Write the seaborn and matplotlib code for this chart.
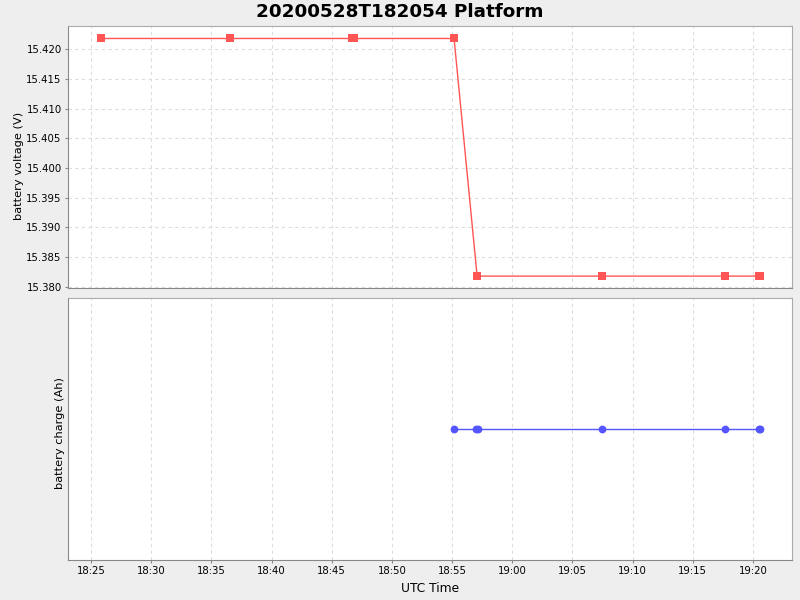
import matplotlib
matplotlib.use("Agg")
import matplotlib.pyplot as plt
import matplotlib.dates as mdates
import numpy as np
import pandas as pd
import seaborn as sns

day = "2020-05-28 "
volt_times = ["18:25:50", "18:36:33", "18:46:42", "18:46:52", "18:55:10",
              "18:57:05", "19:07:29", "19:17:42", "19:20:29", "19:20:35"]
volt_values = [15.4218, 15.4218, 15.4218, 15.4218, 15.4218,
               15.3818, 15.3818, 15.3818, 15.3818, 15.3818]
charge_times = ["18:55:10", "18:56:58", "18:57:10", "19:07:29",
                "19:17:42", "19:20:29", "19:20:35"]
charge_values = [0.0, 0.0, 0.0, 0.0, 0.0, 0.0, 0.0]
title = "20200528T182054 Platform"

volt = pd.DataFrame({"time": pd.to_datetime([day + t for t in volt_times]),
                     "v": volt_values})
charge = pd.DataFrame({"time": pd.to_datetime([day + t for t in charge_times]),
                       "c": charge_values})

plt.rcParams["font.family"] = ["DejaVu Sans"]
fig = plt.figure(figsize=(8, 6), dpi=100, facecolor="#eeeeee")
ax1 = fig.add_axes([68/800, (600-288)/600, 724/800, 262/600])
ax2 = fig.add_axes([68/800, 40/600, 724/800, 262/600], sharex=ax1)

sns.lineplot(data=volt, x="time", y="v", ax=ax1, color="#ff5555", marker="s",
             markersize=5.8, markeredgewidth=0, linewidth=1)
sns.lineplot(data=charge, x="time", y="c", ax=ax2, color="#5555ff", marker="o",
             markersize=5.6, markeredgewidth=0, linewidth=1)

for ax in (ax1, ax2):
    ax.set_facecolor("white")
    ax.grid(True, color="#dddddd", linestyle=(0, (3, 3)), linewidth=0.8)
    for s in ax.spines.values():
        s.set_color("#aaaaaa")
    ax.spines["left"].set_color("#888888")
    ax.spines["bottom"].set_color("#888888")
    ax.tick_params(labelsize=7.3, length=2, color="#888888", pad=2.5)

ax1.set_xlim(pd.Timestamp(day + "18:23:05"), pd.Timestamp(day + "19:23:15"))
ax1.xaxis.set_major_locator(mdates.MinuteLocator(byminute=range(0, 60, 5)))
ax1.xaxis.set_major_formatter(mdates.DateFormatter("%H:%M"))
ax1.set_ylim(15.3798, 15.4239)
ax1.set_yticks(np.arange(15.380, 15.4201, 0.005))
ax1.yaxis.set_major_formatter(matplotlib.ticker.FormatStrFormatter("%.3f"))
ax1.tick_params(axis="x", labelbottom=False, length=0)
ax1.set_xlabel("")
ax1.set_ylabel("battery voltage (V)", fontsize=8.2)
ax1.yaxis.set_label_coords(-0.061, 0.466)

ax2.set_ylim(-1, 1)
ax2.set_yticks([])
ax2.grid(False, axis="y")
ax2.set_xlabel("UTC Time", fontsize=8.8, labelpad=4)
ax2.set_ylabel("battery charge (Ah)", fontsize=8.2)
ax2.yaxis.set_label_coords(-0.0045, 0.483)

fig.suptitle(title, fontsize=13.2, fontweight="bold", y=0.995)
fig.savefig("out.png", dpi=100, facecolor=fig.get_facecolor())
